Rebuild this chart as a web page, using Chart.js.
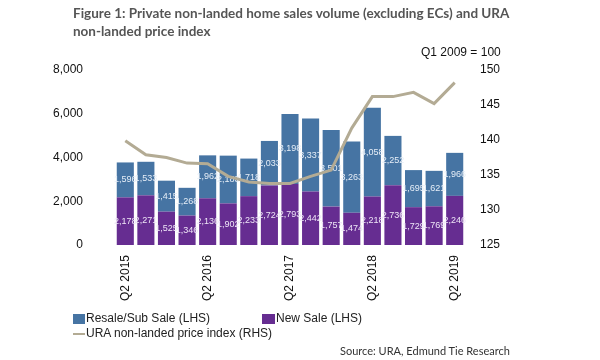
<!DOCTYPE html>
<html>
<head>
<meta charset="utf-8">
<script src="https://cdn.jsdelivr.net/npm/chart.js@4"></script>
<style>
  html, body { margin: 0; padding: 0; background: #fff; }
  #wrap { position: relative; width: 600px; height: 360px; overflow: hidden; }
  #c { position: absolute; left: 0; top: 0; }
  .t { position: absolute; white-space: nowrap; }
  #title { left: 73px; top: 4px; font-family: Lato, "Open Sans", sans-serif; font-weight: bold; font-size: 13.5px; line-height: 18px; color: #555; }
  #unit { left: 421px; top: 45px; font-family: "Liberation Sans", Arial, sans-serif; font-size: 12px; color: #111; }
  .leg { position: absolute; font-family: "Liberation Sans", Arial, sans-serif; font-size: 12px; color: #222; white-space: nowrap; }
  .sw { position: absolute; }
  #src { left: 340px; top: 344px; font-family: Lato, "Open Sans", sans-serif; font-size: 11px; color: #333; }
</style>
</head>
<body>
<div id="wrap">
  <canvas id="c" width="600" height="360"></canvas>
  <div id="title" class="t">Figure 1: Private non-landed home sales volume (excluding ECs) and URA<br>non-landed price index</div>
  <div id="unit" class="t">Q1 2009 = 100</div>
  <div class="sw" style="left:73px;top:314px;width:12px;height:10px;background:#4674a3"></div>
  <div class="leg" style="left:86px;top:311px">Resale/Sub Sale (LHS)</div>
  <div class="sw" style="left:262px;top:314px;width:13px;height:10px;background:#662d91"></div>
  <div class="leg" style="left:276px;top:311px">New Sale (LHS)</div>
  <div class="sw" style="left:73px;top:333px;width:12px;height:2px;background:#b3ab94"></div>
  <div class="leg" style="left:86px;top:326px">URA non-landed price index (RHS)</div>
  <div id="src" class="t">Source: URA, Edmund Tie Research</div>
</div>
<script>
const categories = ["Q2 2015","Q3 2015","Q4 2015","Q1 2016","Q2 2016","Q3 2016","Q4 2016","Q1 2017","Q2 2017","Q3 2017","Q4 2017","Q1 2018","Q2 2018","Q3 2018","Q4 2018","Q1 2019","Q2 2019"];
const newSale = [2178, 2271, 1525, 1346, 2136, 1902, 2233, 2724, 2793, 2442, 1757, 1474, 2218, 2736, 1729, 1769, 2246];
const resaleSubSale = [1596, 1533, 1415, 1268, 1962, 2183, 1718, 2033, 3198, 3337, 3501, 3263, 4058, 2252, 1695, 1621, 1966];
const priceIndex = [139.9, 137.9, 137.5, 136.7, 136.6, 134.8, 134.0, 133.8, 133.8, 134.8, 135.7, 141.7, 146.2, 146.2, 146.8, 145.2, 148.2];
const leftTicks = [0, 2000, 4000, 6000, 8000];
const rightTicks = [125, 130, 135, 140, 145, 150];

const barLabels = {
  id: 'barLabels',
  afterDatasetDraw(chart, args) {
    const ds = chart.data.datasets[args.index];
    if (ds.type === 'line') return;
    const ctx = chart.ctx;
    ctx.save();
    ctx.font = '9px "Liberation Sans", Arial, sans-serif';
    ctx.textAlign = 'center';
    ctx.textBaseline = 'middle';
    ctx.fillStyle = ds.labelColor;
    args.meta.data.forEach((el, i) => {
      const v = ds.data[i];
      ctx.fillText(v.toLocaleString('en-US'), el.x, (el.y + el.base) / 2);
    });
    ctx.restore();
  }
};

const tickFont = { family: '"Liberation Sans", Arial, sans-serif', size: 12 };

new Chart(document.getElementById('c'), {
  data: {
    labels: categories,
    datasets: [
      { type: 'bar', label: 'New Sale (LHS)', data: newSale, backgroundColor: '#662d91', yAxisID: 'y', stack: 's', order: 1, labelColor: '#efe6f7', barPercentage: 0.83, categoryPercentage: 1.0 },
      { type: 'bar', label: 'Resale/Sub Sale (LHS)', data: resaleSubSale, backgroundColor: '#4674a3', yAxisID: 'y', stack: 's', order: 1, labelColor: '#e6eef7', barPercentage: 0.83, categoryPercentage: 1.0 },
      { type: 'line', label: 'URA non-landed price index (RHS)', data: priceIndex, borderColor: '#b3ab94', borderWidth: 3, pointRadius: 0, tension: 0, yAxisID: 'y1', order: 0 }
    ]
  },
  options: {
    responsive: false,
    animation: false,
    layout: { padding: { top: 70, bottom: 55, left: 0, right: 0 } },
    plugins: { legend: { display: false }, tooltip: { enabled: false } },
    scales: {
      x: {
        stacked: true,
        grid: { display: false, drawTicks: false },
        border: { display: false },
        ticks: {
          autoSkip: false, maxRotation: 90, minRotation: 90, padding: 10,
          color: '#111', font: tickFont,
          callback: function (v, i) { return i % 4 === 0 ? this.getLabelForValue(v) : ''; }
        },
        afterFit(s) { s.height = 60; }
      },
      y: {
        position: 'left', stacked: true, min: leftTicks[0], max: leftTicks[leftTicks.length - 1],
        grid: { display: false, drawTicks: false }, border: { display: false },
        afterBuildTicks(s) { s.ticks = leftTicks.map(v => ({ value: v })); },
        ticks: { padding: 32, color: '#111', font: tickFont,
          callback: v => v.toLocaleString('en-US') },
        afterFit(s) { s.width = 115; }
      },
      y1: {
        position: 'right', min: rightTicks[0], max: rightTicks[rightTicks.length - 1],
        grid: { display: false, drawTicks: false }, border: { display: false },
        afterBuildTicks(s) { s.ticks = rightTicks.map(v => ({ value: v })); },
        ticks: { padding: 15, color: '#111', font: tickFont },
        afterFit(s) { s.width = 135; }
      }
    }
  },
  plugins: [barLabels]
});
</script>
</body>
</html>
